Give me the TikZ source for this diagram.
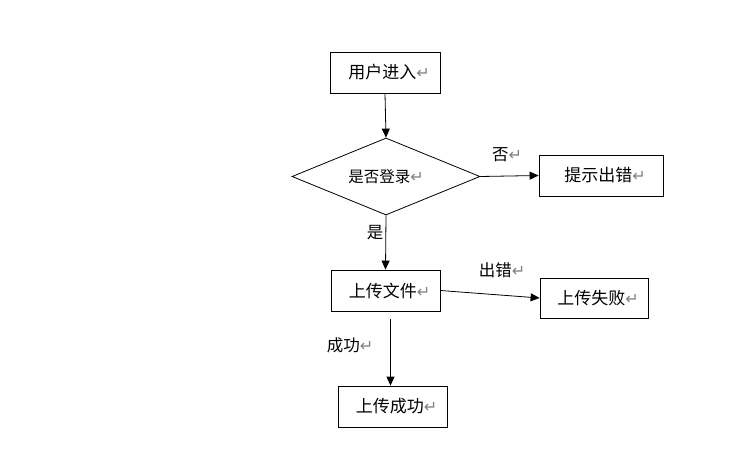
\documentclass[tikz,border=0pt]{standalone}
\usepackage{fontspec}
\newfontfamily\cjk{Noto Sans CJK SC}
\newfontfamily\dv{DejaVu Sans}
\usetikzlibrary{shapes.geometric,arrows.meta,calc}
\newcommand{\parmark}{{\dv\color{gray}\fontsize{16pt}{16pt}\selectfont ↵}}
\begin{document}
\begin{tikzpicture}[x=1pt,y=-1pt,
  box/.style={draw,line width=0.8pt,rectangle,inner sep=0pt,font=\cjk\fontsize{17pt}{19pt}\selectfont},
  dia/.style={draw,line width=0.8pt,diamond,aspect=2.44,inner sep=0pt,minimum width=188pt,minimum height=77pt,font=\cjk\fontsize{15.5pt}{18pt}\selectfont},
  lbl/.style={inner sep=0pt,font=\cjk\fontsize{16.5pt}{18pt}\selectfont},
  arr/.style={line width=0.8pt,-{Triangle[length=9pt,width=8pt]}}]
\useasboundingbox (0,0) rectangle (733,457);
\node[box,minimum width=110pt,minimum height=41pt] (enter) at (385,72.5) {\hspace*{8pt}用户进入\parmark};
\node[dia] (login) at (386,176.5) {是否登录\parmark};
\node[box,minimum width=124pt,minimum height=41pt] (err) at (601,175.5) {\hspace*{8pt}提示出错\parmark};
\node[box,minimum width=109pt,minimum height=41pt] (file) at (385.5,290.5) {\hspace*{8pt}上传文件\parmark};
\node[box,minimum width=108pt,minimum height=40pt] (fail) at (594,298) {\hspace*{8pt}上传失败\parmark};
\node[box,minimum width=109pt,minimum height=41pt] (ok) at (392.5,406.5) {\hspace*{8pt}上传成功\parmark};
\node[lbl] (no) at (507,155) {否\parmark};
\node[lbl] (yes) at (375,233) {是};
\node[lbl] (fl) at (502,270) {出错\parmark};
\node[lbl] (sl) at (350,345) {成功\parmark};
\draw[arr] (enter.south) -- (login.north);
\draw[arr] (login.east) -- (err.west);
\draw[arr] (login.south) -- (file.north);
\draw[arr] (file.east) -- (fail.west);
\coordinate (okstart) at ($(file.south -| ok.north)+(-2,8)$);
\draw[arr] (okstart) -- (okstart |- ok.north);
\end{tikzpicture}
\end{document}
